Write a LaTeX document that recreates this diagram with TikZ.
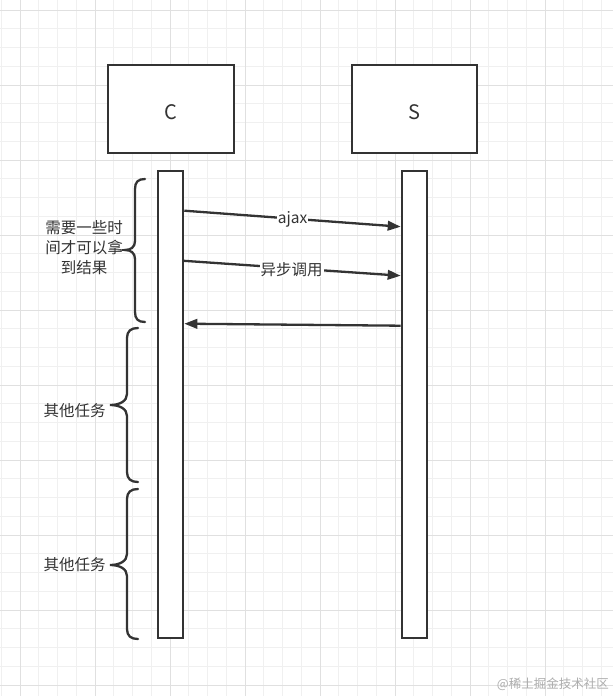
\documentclass[tikz,border=0pt]{standalone}
\usepackage{fontspec}
\setmainfont{Noto Sans CJK SC}
\usetikzlibrary{arrows.meta,calc}
\definecolor{ink}{HTML}{333333}
\tikzset{
  minorgrid/.style={draw=black!6,line width=1pt},
  majorgrid/.style={draw=black!12,line width=1pt},
  actorbox/.style={draw=ink,line width=2.6pt,fill=white,rectangle,inner sep=0pt,
    font=\fontsize{20}{24}\selectfont,text=ink,text height=20pt,text depth=0pt},
  lifebar/.style={draw=ink,line width=2.6pt,fill=white,rectangle,inner sep=0pt,
    minimum width=25pt,minimum height=467pt},
  msg/.style={draw=ink,line width=2.3pt,-{Triangle[length=13pt,width=9.5pt]}},
  msglabel/.style={fill=white,inner sep=1pt,text=ink,font=\fontsize{15.5}{18}\selectfont},
  bracepath/.style={draw=ink,line width=2.3pt,line cap=round},
  notetext/.style={text=ink,align=center,font=\fontsize{15.5}{20}\selectfont,inner sep=0pt},
  wmark/.style={text=black!32,font=\fontsize{12.5}{14}\selectfont,inner sep=0pt}
}
\begin{document}
\begin{tikzpicture}[x=1pt,y=-1pt]
\useasboundingbox (0,0) rectangle (613,696);
\fill[white] (0,0) rectangle (613,696);
% grid
\foreach \i in {0,...,33} {
  \draw[minorgrid] ({1.25+18.75*\i},0) -- ({1.25+18.75*\i},696);
}
\foreach \i in {0,...,37} {
  \draw[minorgrid] (0,{10+18.75*(\i-0)}) -- (613,{10+18.75*(\i-0)});
}
\foreach \i in {0,...,7} {
  \draw[majorgrid] ({20+75*\i},0) -- ({20+75*\i},696);
}
\foreach \i in {0,...,9} {
  \draw[majorgrid] (0,{10+75*\i}) -- (613,{10+75*\i});
}
% actors
\node[actorbox,minimum width=126pt,minimum height=88pt] (C) at (171,109) {C};
\node[actorbox,minimum width=125pt,minimum height=88pt] (S) at (414.5,109) {S};
% lifelines
\node[lifebar] (CL) at (170.5,404.5) {};
\node[lifebar] (SL) at (414.5,404.5) {};
% message anchor points
\coordinate (a1) at ($(CL.north east)+(0,41)$);
\coordinate (b1) at ($(SL.north west)+(0,57)$);
\coordinate (a2) at ($(CL.north east)+(-2,91)$);
\coordinate (b2) at ($(SL.north west)+(0,106)$);
\coordinate (b3) at ($(SL.north west)+(0,156)$);
\coordinate (a3) at ($(CL.north east)+(0,154)$);
\draw[msg] (a1) -- node[msglabel,pos=0.5,yshift=-1pt] (L1) {ajax} (b1);
\draw[msg] (a2) -- node[msglabel,pos=0.5,yshift=-1pt] (L2) {异步调用} (b2);
\draw[msg] (b3) -- (a3);
% braces
\draw[bracepath] (145,179) .. controls (138,179) and (135,182) .. (135,189)
  -- (135,241) .. controls (135,247) and (131,250) .. (125,250)
  .. controls (131,250) and (135,253) .. (135,259)
  -- (135,312) .. controls (135,319) and (138,322) .. (145,322);
\draw[bracepath] (138,328) .. controls (131,328) and (127,331) .. (127,338)
  -- (127,394) .. controls (127,401) and (120,405) .. (110,405)
  .. controls (120,405) and (127,409) .. (127,416)
  -- (127,472) .. controls (127,479) and (131,482) .. (138,482);
\draw[bracepath] (138,489) .. controls (131,489) and (127,492) .. (127,499)
  -- (127,554) .. controls (127,561) and (120,565) .. (110,565)
  .. controls (120,565) and (127,569) .. (127,576)
  -- (127,629) .. controls (127,636) and (131,639) .. (138,639);
% notes
\node[notetext] (N1) at (84,248) {需要一些时\\间才可以拿\\到结果};
\node[notetext] (N2) at (74.5,411) {其他任务};
\node[notetext] (N3) at (74.5,565) {其他任务};
% watermark
\node[wmark,anchor=east] (W) at (609,684) {@稀土掘金技术社区};
\end{tikzpicture}
\end{document}
